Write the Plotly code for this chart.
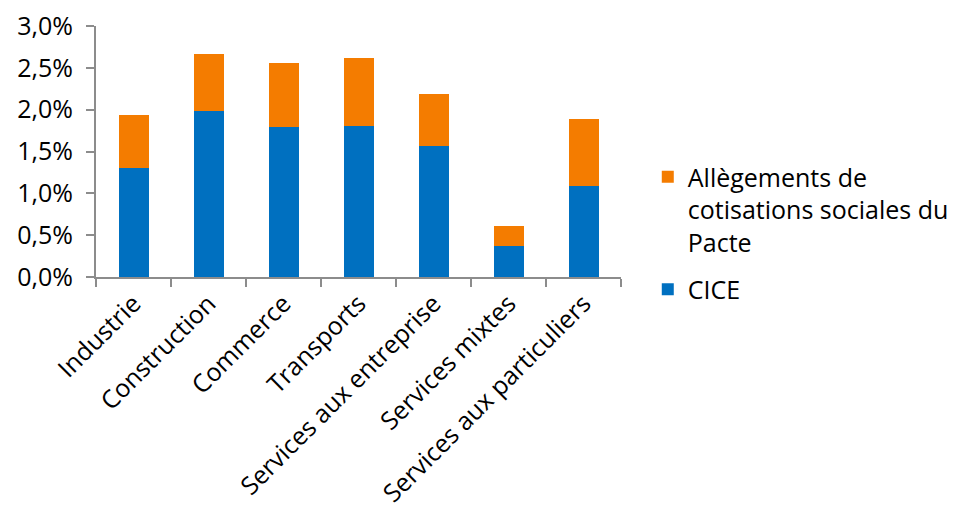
import plotly.graph_objects as go

categories = ["Industrie", "Construction", "Commerce", "Transports",
              "Services aux entreprise", "Services mixtes", "Services aux particuliers"]
cice = [1.30, 1.98, 1.79, 1.81, 1.57, 0.37, 1.09]
allegements = [0.64, 0.69, 0.77, 0.81, 0.62, 0.24, 0.80]
ytick_vals = [0.0, 0.5, 1.0, 1.5, 2.0, 2.5, 3.0]
ytick_text = ["0,0%", "0,5%", "1,0%", "1,5%", "2,0%", "2,5%", "3,0%"]

FONT = "Open Sans"
fig = go.Figure()
fig.add_trace(go.Bar(name="CICE", x=categories, y=cice, marker_color="#0070C0",
                     marker_line_width=0, legendgroup="cice", legendrank=2))
fig.add_trace(go.Bar(name="Allègements de<br>cotisations sociales du<br>Pacte", x=categories,
                     y=allegements, marker_color="#F47C00", marker_line_width=0,
                     legendgroup="pacte", legendrank=1))

fig.update_layout(
    barmode="stack", bargap=0.6,
    width=954, height=507,
    margin=dict(l=96, r=333, t=26, b=230, autoexpand=False),
    plot_bgcolor="white", paper_bgcolor="white",
    font=dict(family=FONT, size=22, color="#000000"),
    legend=dict(x=1.051, y=0.49, xanchor="left", yanchor="top",
                traceorder="grouped", valign="top", tracegroupgap=12,
                font=dict(size=25, family=FONT), itemwidth=30),
    showlegend=True,
)
fig.update_yaxes(range=[0, 3], tickvals=ytick_vals, ticktext=ytick_text,
                 showline=True, linecolor="#8C8C8C", linewidth=2,
                 ticks="outside", ticklen=8, tickcolor="#8C8C8C", tickwidth=2,
                 ticklabelstandoff=8, automargin=False,
                 showgrid=False, zeroline=False, tickfont=dict(size=25))
fig.update_xaxes(showline=True, linecolor="#8C8C8C", linewidth=2,
                 ticks="outside", ticklen=8, tickcolor="#8C8C8C", tickwidth=2,
                 tickson="boundaries", tickangle=-45, showgrid=False, automargin=False,
                 tickfont=dict(size=25))
fig.write_html("out.html")
